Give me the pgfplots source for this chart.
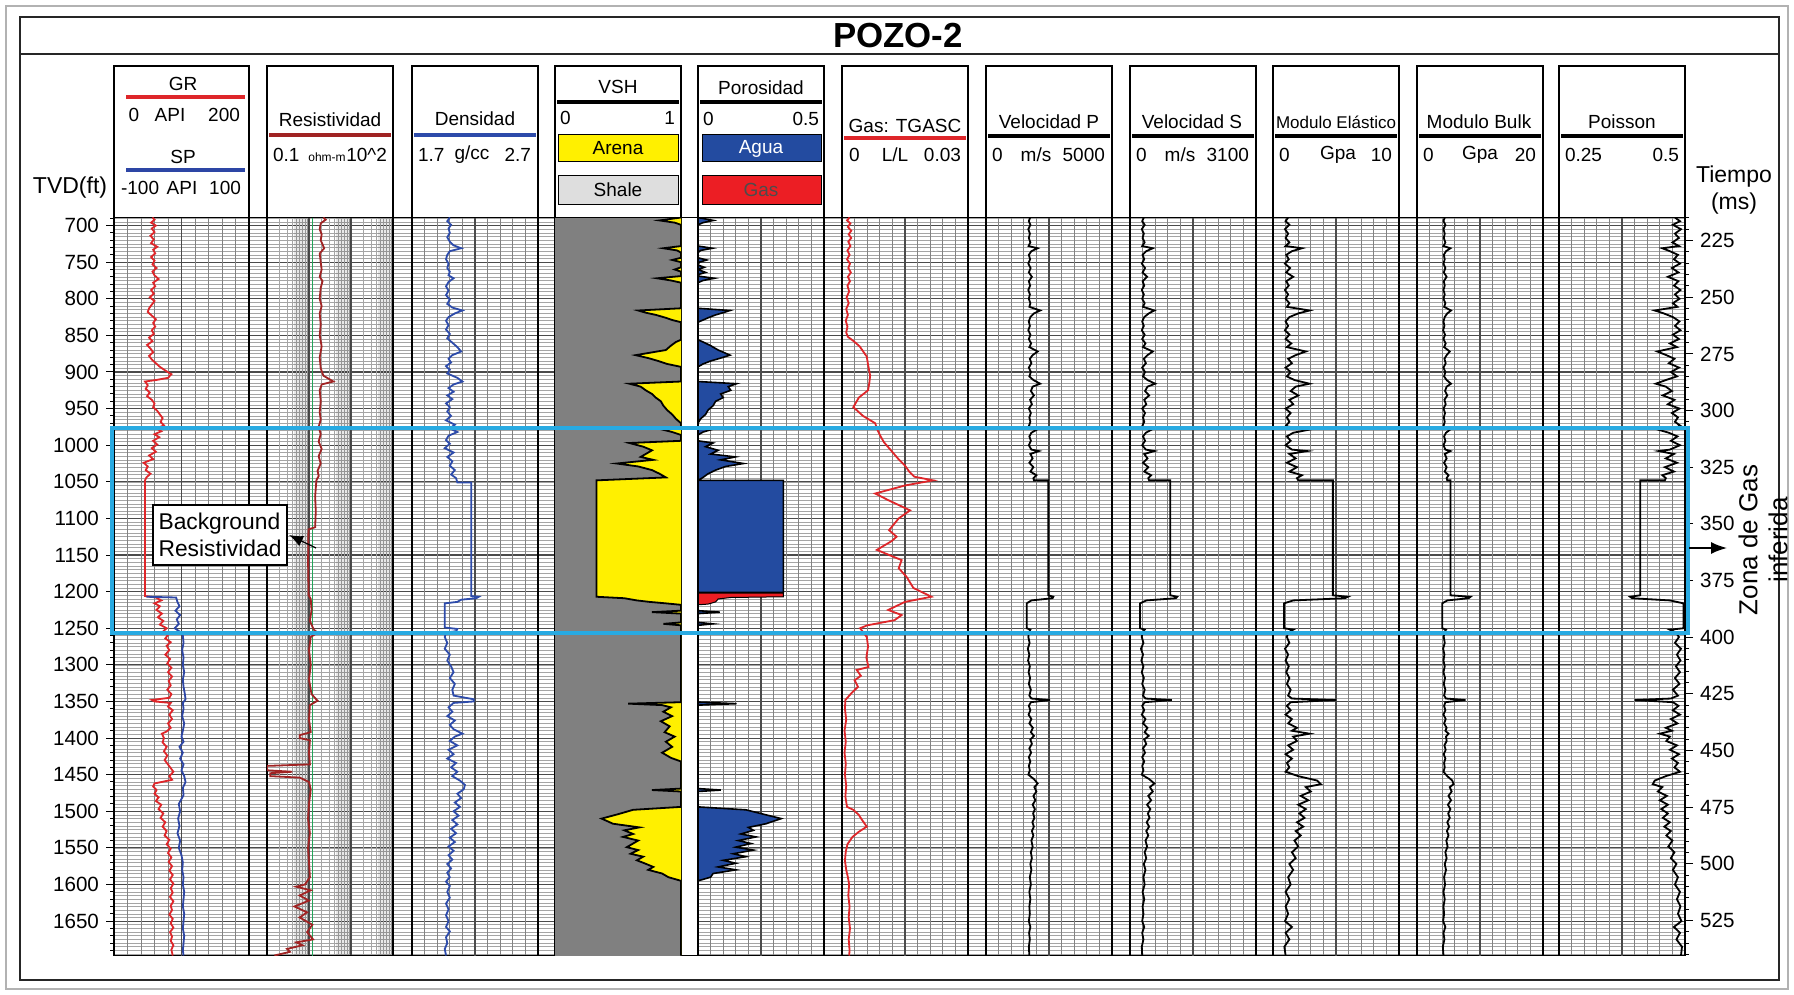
\documentclass[border=0pt]{standalone}
\usepackage{pgfplots}
\pgfplotsset{compat=1.18}
\usetikzlibrary{arrows.meta}
\usepackage{fontspec}
\setmainfont{Liberation Sans}

\definecolor{grred}{RGB}{222,38,42}
\definecolor{spblue}{RGB}{45,70,165}
\definecolor{resred}{RGB}{160,35,35}
\definecolor{resgreen}{RGB}{35,165,90}
\definecolor{dblue}{RGB}{45,75,170}
\definecolor{vshgray}{RGB}{128,128,128}
\definecolor{sandyel}{RGB}{255,240,0}
\definecolor{aguablue}{RGB}{35,75,160}
\definecolor{gasred}{RGB}{236,30,36}
\definecolor{zonecyan}{RGB}{40,170,226}
\definecolor{gminor}{RGB}{165,165,165}
\definecolor{gvert}{RGB}{130,130,130}
\definecolor{gmajor}{RGB}{75,75,75}

\newcommand{\fs}[1]{\fontsize{#1}{#1}\selectfont}

\pgfplotsset{
  base/.style={scale only axis, height=369pt, anchor=north west, y dir=reverse, ymin=689, ymax=1697},
  trk/.style={base, width=63pt, ytick=\empty, xticklabels={}, extra x tick labels={},
    scaled x ticks=false,
    major tick length=0pt, minor tick length=0pt, xmajorgrids,
    major grid style={gvert,line width=0.4pt},
    extra x tick style={major grid style={gmajor,line width=0.6pt}},
    axis line style={black,line width=0.8pt}},
  ovl/.style={base, width=63pt, axis lines=none, xtick=\empty, ytick=\empty},
}

\begin{document}
\begin{tikzpicture}
\useasboundingbox (0,0) rectangle (897pt,-497.5pt);
\begin{scope}[x=0.5pt,y=-0.5pt]
\fill[white] (0,0) rectangle (1794,995);
\draw[gray!60, line width=0.6pt] (6,6) rectangle (1788,989);
\draw[black!85, line width=0.8pt] (20,17) rectangle (1779,980);
\draw[black!85, line width=0.8pt] (20,54) -- (1779,54);
\node[font=\fs{17.4}\bfseries] at (898,36) {POZO-2};
\foreach \l/\w in {114/135,267/126,412/126,555/126,698/126,842/126,986/126,1130/126,1273/126,1417/126,1559/126}
  \draw[black, line width=0.6pt] (\l,66) rectangle (\l+\w,217.5);
% GR / SP
\node[font=\fs{9.5}] at (183,84) {GR};
\draw[grred, line width=1.6pt] (126,97) -- (245,97);
\node[font=\fs{9.5}] at (134,115) {0};
\node[font=\fs{9.5}] at (170,115) {API};
\node[font=\fs{9.5}, anchor=east] at (247,115) {200};
\node[font=\fs{9.5}] at (183,157) {SP};
\draw[spblue, line width=1.6pt] (126,170) -- (245,170);
\node[font=\fs{9.5}, anchor=west] at (114,188) {-100};
\node[font=\fs{9.5}] at (182,188) {API};
\node[font=\fs{9.5}, anchor=east] at (248,188) {100};
% Res
\node[font=\fs{9.5}] at (330,120) {Resistividad};
\draw[resred, line width=1.6pt] (269,135) -- (391,135);
\node[font=\fs{9.5}, anchor=west] at (266,155) {0.1};
\node[font=\fs{6}] at (327,157) {ohm-m};
\node[font=\fs{9.5}, anchor=east] at (394,155) {10\textasciicircum 2};
% Dens
\node[font=\fs{9.5}] at (475,119) {Densidad};
\draw[dblue, line width=1.6pt] (414,135) -- (536,135);
\node[font=\fs{9.5}, anchor=west] at (411,155) {1.7};
\node[font=\fs{9.5}] at (472,155) {g/cc};
\node[font=\fs{9.5}, anchor=east] at (538,155) {2.7};
% VSH
\node[font=\fs{9.5}] at (618,87) {VSH};
\draw[black, line width=1.6pt] (557,102) -- (679,102);
\node[font=\fs{9.5}, anchor=west] at (553,118) {0};
\node[font=\fs{9.5}, anchor=east] at (682,118) {1};
\draw[black, fill=sandyel, line width=0.5pt] (558,135) rectangle (678,162);
\node[font=\fs{9.5}] at (618,148.5) {Arena};
\draw[black, fill=black!13, line width=0.5pt] (558,175) rectangle (678,204);
\node[font=\fs{9.5}] at (618,189.5) {Shale};
% Poro
\node[font=\fs{9.5}] at (761,88) {Porosidad};
\draw[black, line width=1.6pt] (700,102) -- (822,102);
\node[font=\fs{9.5}, anchor=west] at (696,119) {0};
\node[font=\fs{9.5}, anchor=east] at (826,119) {0.5};
\draw[black, fill=aguablue, line width=0.5pt] (702,135) rectangle (821,162);
\node[font=\fs{9.5}, text=white!85] at (761,148.5) {Agua};
\draw[black, fill=gasred, line width=0.5pt] (702,175) rectangle (821,204);
\node[font=\fs{9.5}, text=black!70] at (761,189.5) {Gas};
% Gas
\node[font=\fs{9.5}] at (905,126) {Gas: TGASC};
\draw[grred, line width=1.6pt] (844,138) -- (966,138);
\node[font=\fs{9.5}, anchor=west] at (842,155) {0};
\node[font=\fs{9.5}] at (895,155) {L/L};
\node[font=\fs{9.5}, anchor=east] at (968,155) {0.03};
% VelP
\node[font=\fs{9.5}] at (1049,122) {Velocidad P};
\draw[black, line width=1.6pt] (988,136) -- (1110,136);
\node[font=\fs{9.5}, anchor=west] at (985,155) {0};
\node[font=\fs{9.5}] at (1036,155) {m/s};
\node[font=\fs{9.5}, anchor=east] at (1112,155) {5000};
% VelS
\node[font=\fs{9.5}] at (1192,122) {Velocidad S};
\draw[black, line width=1.6pt] (1132,136) -- (1254,136);
\node[font=\fs{9.5}, anchor=west] at (1129,155) {0};
\node[font=\fs{9.5}] at (1180,155) {m/s};
\node[font=\fs{9.5}, anchor=east] at (1256,155) {3100};
% ModE
\node[font=\fs{8.5}] at (1336,122) {Modulo Elástico};
\draw[black, line width=1.6pt] (1275,136) -- (1397,136);
\node[font=\fs{9.5}, anchor=west] at (1272,155) {0};
\node[font=\fs{9.5}] at (1338,155) {Gpa};
\node[font=\fs{9.5}, anchor=east] at (1399,155) {10};
% Bulk
\node[font=\fs{9.5}] at (1479,122) {Modulo Bulk};
\draw[black, line width=1.6pt] (1419,136) -- (1541,136);
\node[font=\fs{9.5}, anchor=west] at (1416,155) {0};
\node[font=\fs{9.5}] at (1480,155) {Gpa};
\node[font=\fs{9.5}, anchor=east] at (1543,155) {20};
% Poisson
\node[font=\fs{9.5}] at (1622,122) {Poisson};
\draw[black, line width=1.6pt] (1561,136) -- (1683,136);
\node[font=\fs{9.5}, anchor=west] at (1558,155) {0.25};
\node[font=\fs{9.5}, anchor=east] at (1686,155) {0.5};
% axis titles
\node[font=\fs{11.5}] at (70,188) {TVD(ft)};
\node[font=\fs{11.5}] at (1734,177) {Tiempo};
\node[font=\fs{11.5}] at (1734,204) {(ms)};
\end{scope}

% background grid
\begin{axis}[base, width=785.5pt, at={(57pt,-108.75pt)}, xmin=0, xmax=1,
  xtick=\empty, ytick={700,750,...,1650}, minor ytick={690,695,...,1695},
  yticklabels={}, major tick length=0pt, minor tick length=0pt,
  ymajorgrids, yminorgrids, major grid style={gmajor,line width=0.55pt},
  minor grid style={gminor,line width=0.28pt},
  axis line style={black,line width=0.8pt}]
\end{axis}
\fill[white] (341pt,-109.1pt) rectangle (348.7pt,-477.4pt);

% GR
\begin{axis}[trk, width=67.5pt, at={(57pt,-108.75pt)}, xmin=0, xmax=200, xtick={20,40,...,180}, extra x ticks={100}]
\addplot[grred, line width=0.9pt] coordinates {
(57,689)(60,692)(55,696)(62,700)(56,704)(60,709)(54,714)(59,719)(55,724)(64,729)(58,733)(61,738)(55,743)(60,748)(57,753)(63,758)(57,763)(60,768)(66,773)(58,778)(61,783)(55,788)(59,793)(53,798)(60,803)(56,808)(52,813)(50,818)(56,823)(62,828)(58,833)(61,838)(56,843)(59,848)(52,853)(57,858)(49,863)(54,868)(58,873)(52,878)(56,883)(62,888)(68,893)(76,898)(85,903)(80,908)(62,911)(46,913)(50,918)(47,923)(53,928)(49,933)(56,938)(60,943)(58,948)(64,953)(68,958)(72,963)(69,968)(74,973)(63,977)(70,981)(60,985)(67,989)(58,994)(64,999)(56,1004)(62,1009)(52,1014)(58,1019)(44,1024)(50,1029)(47,1034)(54,1039)(48,1044)(46,1048)(46,1206)(62,1208)(70,1212)(60,1216)(68,1220)(63,1225)(71,1230)(65,1235)(73,1240)(68,1245)(78,1250)(72,1255)(80,1259)(76,1264)(84,1269)(78,1274)(82,1280)(76,1286)(83,1292)(79,1298)(85,1304)(80,1310)(86,1316)(81,1322)(84,1328)(79,1334)(85,1340)(82,1345)(56,1348)(60,1350)(84,1352)(80,1357)(87,1362)(82,1368)(86,1374)(80,1380)(84,1386)(78,1391)(71,1394)(74,1400)(72,1406)(78,1412)(74,1418)(79,1424)(75,1430)(80,1436)(84,1441)(88,1446)(82,1452)(86,1457)(60,1462)(58,1466)(63,1471)(60,1476)(66,1481)(62,1486)(70,1491)(66,1497)(73,1503)(69,1509)(76,1515)(72,1521)(78,1527)(75,1533)(82,1539)(78,1545)(84,1551)(80,1557)(85,1563)(81,1569)(86,1575)(82,1581)(87,1587)(83,1593)(88,1599)(84,1605)(87,1611)(83,1617)(88,1623)(84,1629)(86,1635)(82,1641)(87,1647)(84,1653)(88,1659)(83,1665)(86,1671)(84,1677)(88,1683)(85,1689)(87,1697)};
\end{axis}
% SP
\begin{axis}[ovl, width=67.5pt, at={(57pt,-108.75pt)}, xmin=-100, xmax=100]
\addplot[spblue, line width=0.9pt] coordinates {
(-52,1207)(-8,1208)(-6,1214)(-3,1220)(-9,1226)(-2,1232)(-7,1238)(-4,1244)(-10,1250)(-2,1255)(2,1260)(3,1270)(1,1280)(3,1290)(2,1300)(4,1310)(2,1320)(3,1330)(5,1340)(6,1347)(2,1352)(3,1360)(1,1370)(4,1380)(2,1390)(0,1398)(3,1405)(-3,1412)(2,1420)(-2,1428)(3,1436)(0,1444)(4,1452)(6,1460)(2,1468)(3,1478)(-4,1490)(-2,1500)(-5,1510)(-3,1520)(-6,1530)(-2,1540)(-4,1550)(0,1560)(2,1570)(1,1580)(3,1590)(2,1600)(4,1610)(3,1620)(2,1630)(4,1640)(3,1650)(2,1660)(4,1670)(3,1680)(2,1690)(3,1697)};
\end{axis}

% Resistividad
\begin{axis}[trk, at={(133.5pt,-108.75pt)}, xmode=log, xmin=0.1, xmax=100, xtick={1,10}, extra x ticks={},
  minor xtick={0.2,0.3,0.4,0.5,0.6,0.7,0.8,0.9,2,3,4,5,6,7,8,9,20,30,40,50,60,70,80,90},
  xminorgrids, minor grid style={gminor,line width=0.3pt}, major grid style={gmajor,line width=0.6pt}]
\fill[black, opacity=0.09] (axis cs:0.45,689) rectangle (axis cs:1,1697);
\fill[black, opacity=0.09] (axis cs:4.5,689) rectangle (axis cs:10,1697);
\fill[black, opacity=0.09] (axis cs:45,689) rectangle (axis cs:100,1697);
\addplot[resgreen, line width=0.8pt] coordinates {(1.2,689)(1.2,1697)};
\addplot[resred, line width=0.9pt] coordinates {
(2.2,689)(2.5,692)(1.9,697)(1.8,705)(2.0,712)(1.9,720)(2.3,731)(1.8,738)(1.9,750)(2.0,760)(1.8,770)(2.1,776)(1.9,785)(1.8,800)(2.0,810)(1.8,820)(1.9,835)(1.8,850)(2.0,865)(1.8,880)(1.9,895)(2.2,905)(3.8,913)(2.0,917)(1.8,925)(1.9,940)(1.8,955)(1.9,965)(1.7,975)(1.9,985)(1.7,995)(2.0,1005)(1.7,1015)(1.9,1025)(1.6,1035)(1.7,1042)(1.5,1048)(1.4,1070)(1.45,1090)(1.4,1112)(0.97,1115)(0.95,1160)(0.98,1205)(1.1,1210)(1.15,1225)(1.05,1240)(1.3,1252)(1.6,1256)(1.1,1262)(1.0,1280)(1.1,1300)(1.0,1320)(1.15,1340)(1.6,1349)(1.05,1355)(1.0,1375)(1.1,1392)(0.6,1396)(0.6,1400)(1.05,1403)(1.0,1420)(1.05,1436)(0.1,1438)(0.1,1444)(0.4,1446)(0.12,1448)(0.12,1452)(0.6,1454)(1.0,1460)(1.1,1470)(1.0,1490)(0.95,1510)(1.05,1530)(0.95,1550)(1.0,1570)(1.05,1590)(0.8,1600)(0.5,1603)(1.1,1608)(0.6,1615)(1.0,1622)(0.45,1630)(0.9,1638)(0.6,1645)(1.2,1655)(0.9,1665)(1.25,1675)(0.5,1679)(0.7,1683)(0.3,1688)(0.35,1692)(0.15,1697)};
\end{axis}

% Densidad
\begin{axis}[trk, at={(206pt,-108.75pt)}, xmin=1.7, xmax=2.7, xtick={1.8,1.9,2.0,2.1,2.3,2.4,2.5,2.6}, extra x ticks={2.2}]
\addplot[dblue, line width=0.9pt] coordinates {
(2.00,689)(1.98,694)(2.01,699)(1.99,704)(2.00,710)(1.98,716)(2.00,722)(2.03,727)(2.09,731)(2.00,735)(1.98,740)(1.97,746)(1.99,752)(1.98,758)(2.00,763)(1.99,768)(2.03,772)(1.99,777)(1.97,783)(1.99,789)(1.97,795)(2.00,801)(1.98,807)(2.02,812)(2.10,816)(2.04,820)(1.99,825)(1.97,830)(1.99,836)(1.97,842)(2.00,848)(1.98,854)(2.02,860)(2.06,866)(2.09,872)(2.02,877)(1.99,882)(2.01,887)(1.97,892)(2.00,897)(1.98,902)(2.06,908)(2.10,913)(2.03,917)(1.99,922)(2.03,927)(1.98,932)(2.02,937)(1.97,943)(2.00,948)(1.98,954)(2.01,960)(1.97,966)(2.04,972)(2.00,977)(2.06,982)(1.99,987)(1.97,993)(2.00,998)(1.96,1004)(2.03,1010)(1.98,1016)(2.02,1022)(2.00,1028)(2.04,1034)(2.01,1040)(2.05,1045)(2.06,1051)(2.17,1051)(2.17,1206)(2.23,1207)(2.21,1209)(2.09,1211)(2.06,1214)(1.96,1216)(1.96,1249)(2.06,1251)(2.05,1254)(1.97,1256)(1.96,1262)(1.98,1270)(1.96,1278)(2.00,1286)(1.98,1294)(2.01,1302)(2.03,1310)(2.00,1318)(2.04,1326)(2.02,1334)(2.03,1342)(2.19,1347)(2.19,1350)(2.03,1352)(1.99,1358)(2.02,1364)(1.98,1370)(2.04,1376)(2.00,1382)(2.03,1388)(2.10,1394)(2.04,1398)(2.00,1404)(2.06,1410)(1.99,1416)(2.03,1422)(1.98,1428)(2.05,1434)(2.01,1440)(2.06,1446)(2.02,1452)(2.08,1458)(2.12,1464)(2.11,1470)(2.06,1476)(2.09,1482)(2.04,1488)(2.08,1494)(2.03,1500)(2.07,1506)(2.02,1512)(2.06,1518)(2.01,1524)(2.05,1530)(2.00,1536)(2.04,1542)(1.99,1548)(2.03,1554)(1.99,1560)(2.02,1566)(1.98,1572)(2.01,1578)(1.98,1584)(2.00,1590)(1.97,1596)(2.00,1602)(1.98,1610)(2.00,1618)(1.97,1626)(1.99,1634)(1.97,1642)(1.99,1650)(1.97,1658)(2.00,1664)(1.97,1672)(1.98,1680)(1.96,1688)(1.97,1697)};
\end{axis}

% VSH
\begin{axis}[trk, at={(277.5pt,-108.75pt)}, xmin=0, xmax=1, xtick=\empty, xmajorgrids=false]
\fill[vshgray] (rel axis cs:0,0) rectangle (rel axis cs:1,1);
\addplot[fill=sandyel, draw=black, line width=0.9pt] coordinates {
(1,689)(0.83,693)(0.95,696)(1,699)(1,728)(0.86,731)(0.97,734)(1,737)(1,744)(0.93,747)(1,750)(1,757)(0.95,760)(1,763)(1,769)(0.81,772)(0.92,775)(1,778)(1,813)(0.66,816)(0.72,819)(0.80,822)(0.88,826)(0.93,829)(1,832)(1,856)(0.96,859)(0.92,864)(0.88,870)(0.64,877)(0.74,881)(0.82,885)(0.89,889)(1,893)(1,913)(0.59,916)(0.68,920)(0.72,925)(0.77,930)(0.80,935)(0.84,940)(0.86,946)(0.89,952)(0.93,958)(0.96,964)(1,970)(1,976)(0.86,979)(0.93,982)(1,986)(1,994)(0.59,997)(0.70,1002)(0.77,1007)(0.72,1012)(0.68,1016)(0.78,1020)(0.49,1025)(0.66,1029)(0.77,1034)(0.83,1039)(0.88,1044)(0.33,1048)(0.33,1207)(0.55,1209)(0.65,1212)(0.75,1214)(0.88,1216)(1,1218)(1,1226)(0.77,1228)(1,1230)(1,1242)(0.86,1244)(1,1246)(1,1351)(0.58,1353)(0.85,1355)(0.92,1358)(0.86,1364)(0.93,1370)(0.84,1377)(0.91,1384)(0.87,1392)(0.95,1398)(0.88,1405)(0.93,1412)(0.85,1420)(0.92,1427)(1,1432)(1,1469)(0.77,1471)(1,1473)(1,1494)(0.62,1498)(0.50,1504)(0.37,1510)(0.46,1517)(0.67,1522)(0.55,1526)(0.62,1531)(0.54,1535)(0.66,1540)(0.62,1544)(0.57,1549)(0.66,1553)(0.60,1558)(0.70,1562)(0.65,1567)(0.71,1571)(0.78,1576)(0.74,1580)(0.85,1585)(0.90,1590)(1,1595)(1,1697)};
\end{axis}

% Porosidad
\begin{axis}[trk, at={(349pt,-108.75pt)}, xmin=0, xmax=0.5, xtick={0.05,0.1,0.15,0.2,0.3,0.35,0.4,0.45}, extra x ticks={0.25}]
\addplot[fill=aguablue, draw=black, line width=0.8pt] coordinates {
(0,689)(0.061,693)(0.02,696)(0,699)(0,728)(0.057,731)(0.01,734)(0,737)(0,744)(0.035,747)(0.005,750)(0,754)(0.025,757)(0,760)(0.03,764)(0,767)(0,769)(0.065,772)(0.02,775)(0,778)(0,813)(0.127,816)(0.1,819)(0.07,822)(0.04,826)(0.02,829)(0,832)(0,856)(0.02,859)(0.05,864)(0.08,870)(0.127,877)(0.09,881)(0.05,885)(0.02,889)(0,893)(0,913)(0.153,916)(0.12,920)(0.13,925)(0.09,930)(0.1,935)(0.07,940)(0.06,946)(0.04,952)(0.03,958)(0.01,964)(0,970)(0,976)(0.05,979)(0.02,982)(0,986)(0,994)(0.06,997)(0.03,1002)(0.08,1007)(0.05,1012)(0.148,1016)(0.09,1020)(0.18,1025)(0.11,1029)(0.07,1034)(0.04,1039)(0.02,1044)(0,1048)(0.339,1048)(0.339,1201)(0,1201)(0,1226)(0.087,1228)(0,1230)(0,1242)(0.057,1244)(0,1246)(0,1351)(0.153,1353)(0,1355)(0,1469)(0.091,1471)(0,1473)(0,1494)(0.19,1498)(0.26,1504)(0.33,1510)(0.27,1517)(0.2,1522)(0.22,1526)(0.17,1531)(0.23,1535)(0.16,1540)(0.21,1544)(0.15,1549)(0.22,1553)(0.14,1558)(0.19,1562)(0.1,1567)(0.15,1571)(0.08,1576)(0.15,1580)(0.06,1585)(0.05,1590)(0,1595)(0,1697)};
\addplot[fill=gasred, draw=black, line width=0.5pt] coordinates {
(0,1202)(0.339,1202)(0.339,1207)(0.13,1208)(0.08,1210)(0.07,1214)(0.04,1217)(0,1218)};
\draw[black, line width=1.3pt] (rel axis cs:0,0) -- (rel axis cs:0,1);
\end{axis}

% Gas
\begin{axis}[trk, at={(421pt,-108.75pt)}, xmin=0, xmax=0.03, xtick={0.003,0.006,0.009,0.012,0.018,0.021,0.024,0.027}, extra x ticks={0.015}]
\addplot[grred, line width=0.9pt] coordinates {
(0.0018,689)(0.0012,693)(0.0020,697)(0.0014,702)(0.0022,707)(0.0016,712)(0.0022,717)(0.0015,722)(0.0020,728)(0.0013,734)(0.0018,740)(0.0012,746)(0.0019,752)(0.0015,758)(0.0021,764)(0.0014,770)(0.0019,776)(0.0013,782)(0.0017,790)(0.0011,798)(0.0016,806)(0.0010,814)(0.0014,822)(0.0009,830)(0.0013,838)(0.0010,846)(0.0014,852)(0.0028,858)(0.0042,865)(0.0059,879)(0.0062,890)(0.0067,905)(0.0065,915)(0.0062,925)(0.0040,935)(0.0027,948)(0.0050,960)(0.0079,970)(0.0085,980)(0.0092,988)(0.0100,996)(0.0112,1004)(0.0124,1012)(0.0136,1020)(0.0150,1028)(0.0160,1036)(0.0172,1043)(0.0217,1048)(0.0150,1055)(0.0079,1066)(0.0110,1075)(0.0162,1089)(0.0135,1100)(0.0112,1116)(0.0130,1125)(0.0118,1131)(0.0083,1143)(0.0142,1157)(0.0135,1168)(0.0154,1180)(0.0170,1195)(0.0213,1207)(0.0150,1214)(0.0110,1225)(0.0142,1232)(0.0125,1239)(0.0060,1246)(0.0043,1250)(0.0050,1255)(0.0059,1262)(0.0062,1275)(0.0058,1290)(0.0063,1303)(0.0035,1307)(0.0045,1315)(0.0030,1321)(0.0038,1330)(0.0022,1339)(0.0008,1348)(0.0007,1360)(0.0010,1375)(0.0006,1390)(0.0009,1405)(0.0006,1420)(0.0009,1435)(0.0007,1450)(0.0010,1465)(0.0008,1480)(0.0012,1494)(0.0027,1498)(0.0040,1505)(0.0048,1512)(0.0059,1521)(0.0040,1528)(0.0025,1535)(0.0013,1545)(0.0009,1555)(0.0007,1567)(0.0010,1580)(0.0014,1590)(0.0017,1600)(0.0015,1615)(0.0018,1630)(0.0016,1645)(0.0019,1660)(0.0016,1675)(0.0018,1690)(0.0017,1697)};
\end{axis}

% Velocidad P
\begin{axis}[trk, at={(493pt,-108.75pt)}, xmin=0, xmax=5000, xtick={500,1000,1500,2000,3000,3500,4000,4500}, extra x ticks={2500}]
\addplot[black, line width=0.9pt] coordinates {
(1750,689)(1700,694)(1760,699)(1680,705)(1740,711)(1700,717)(1760,723)(1690,728)(2050,731)(1800,735)(1700,740)(1750,746)(1680,752)(1770,758)(1700,764)(1820,770)(1700,776)(1750,782)(1680,788)(1740,794)(1700,800)(1760,806)(1720,811)(2150,816)(1900,820)(1760,825)(1700,831)(1740,837)(1680,843)(1760,849)(1700,855)(1790,861)(1720,866)(2050,872)(1850,877)(1740,882)(1800,888)(1700,894)(1780,900)(1720,906)(1880,911)(2150,916)(1850,920)(1780,926)(1900,932)(1750,938)(1820,944)(1700,950)(1780,956)(1720,962)(1760,968)(1700,974)(2000,979)(1800,983)(1720,988)(1780,994)(1700,1000)(1800,1006)(2100,1008)(1760,1012)(1850,1018)(1720,1024)(1880,1030)(1760,1036)(2000,1041)(1880,1045)(1900,1048)(2473,1048)(2473,1205)(2670,1207)(2640,1209)(1800,1212)(1614,1216)(1614,1250)(1760,1252)(1700,1256)(1680,1262)(1730,1270)(1660,1278)(1720,1286)(1670,1294)(1740,1302)(1690,1310)(1750,1318)(1700,1326)(1780,1334)(1720,1342)(1800,1346)(2540,1348)(1780,1351)(1700,1356)(1760,1362)(1690,1368)(1800,1374)(1720,1380)(1860,1386)(1780,1392)(1900,1397)(1760,1402)(1820,1408)(1720,1414)(1790,1420)(1700,1426)(1760,1432)(1700,1438)(1740,1444)(1680,1450)(1900,1456)(2050,1462)(1920,1467)(2000,1473)(1880,1479)(1960,1485)(1850,1491)(1940,1497)(1870,1503)(1920,1509)(1840,1515)(1900,1521)(1820,1527)(1880,1533)(1800,1540)(1850,1548)(1780,1556)(1820,1564)(1760,1572)(1800,1580)(1740,1590)(1780,1600)(1720,1610)(1760,1620)(1720,1630)(1740,1640)(1700,1650)(1760,1658)(1710,1666)(1740,1675)(1700,1685)(1720,1697)};
\end{axis}

% Velocidad S
\begin{axis}[trk, at={(565pt,-108.75pt)}, xmin=0, xmax=3100, xtick={310,620,930,1240,1860,2170,2480,2790}, extra x ticks={1550}]
\addplot[black, line width=0.9pt] coordinates {
(340,689)(300,694)(360,699)(290,705)(340,711)(310,717)(360,723)(300,728)(560,731)(400,735)(310,740)(350,746)(290,752)(370,758)(310,764)(420,770)(310,776)(350,782)(290,788)(340,794)(300,800)(360,806)(320,811)(600,816)(460,820)(350,825)(300,831)(340,837)(290,843)(360,849)(300,855)(380,861)(320,866)(560,872)(430,877)(340,882)(390,888)(300,894)(370,900)(320,906)(430,911)(620,916)(430,920)(370,926)(470,932)(350,938)(400,944)(300,950)(370,956)(320,962)(350,968)(300,974)(520,979)(390,983)(320,988)(370,994)(300,1000)(390,1006)(600,1008)(350,1012)(430,1018)(320,1024)(450,1030)(350,1036)(520,1041)(450,1045)(470,1048)(992,1048)(992,1205)(1160,1207)(1130,1209)(400,1212)(248,1216)(248,1250)(360,1252)(300,1256)(290,1262)(330,1270)(270,1278)(320,1286)(280,1294)(330,1302)(290,1310)(340,1318)(300,1326)(360,1334)(320,1342)(380,1346)(1030,1348)(360,1351)(300,1356)(350,1362)(290,1368)(380,1374)(320,1380)(430,1386)(360,1392)(460,1397)(350,1402)(400,1408)(320,1414)(370,1420)(300,1426)(350,1432)(300,1438)(330,1444)(290,1450)(470,1456)(600,1462)(490,1467)(560,1473)(450,1479)(520,1485)(420,1491)(500,1497)(440,1503)(480,1509)(410,1515)(470,1521)(400,1527)(450,1533)(380,1540)(420,1548)(360,1556)(400,1564)(340,1572)(380,1580)(330,1590)(360,1600)(310,1610)(350,1620)(310,1630)(330,1640)(300,1650)(350,1658)(300,1666)(330,1675)(290,1685)(300,1697)};
\end{axis}

% Modulo Elastico
\begin{axis}[trk, at={(636.5pt,-108.75pt)}, xmin=0, xmax=10, xtick={1,2,3,4,6,7,8,9}, extra x ticks={5}]
\addplot[black, line width=0.9pt] coordinates {
(1.2,689)(1.0,694)(1.3,699)(0.95,705)(1.2,711)(1.0,717)(1.3,723)(1.0,728)(2.3,731)(1.5,735)(1.05,740)(1.25,746)(0.95,752)(1.35,758)(1.05,764)(1.6,770)(1.05,776)(1.25,782)(0.95,788)(1.2,794)(1.0,800)(1.3,806)(1.1,811)(2.9,816)(2.0,820)(1.3,825)(1.0,831)(1.2,837)(0.95,843)(1.3,849)(1.0,855)(1.45,861)(1.1,866)(2.6,872)(1.8,877)(1.2,882)(1.5,888)(1.0,894)(1.4,900)(1.1,906)(1.7,911)(2.9,916)(1.8,920)(1.4,926)(2.0,932)(1.3,938)(1.6,944)(1.0,950)(1.4,956)(1.1,962)(1.3,968)(1.0,974)(2.8,979)(1.6,983)(1.1,988)(1.4,994)(1.0,1000)(1.5,1006)(2.7,1008)(1.3,1012)(1.8,1018)(1.1,1024)(1.9,1030)(1.3,1036)(2.3,1041)(1.9,1045)(2.0,1048)(4.75,1048)(4.75,1205)(5.95,1207)(5.7,1209)(1.6,1212)(0.88,1216)(0.88,1250)(1.6,1252)(1.2,1256)(1.1,1262)(1.3,1270)(0.95,1278)(1.2,1286)(1.0,1294)(1.25,1302)(1.05,1310)(1.3,1318)(1.1,1326)(1.4,1334)(1.2,1342)(1.5,1346)(5.0,1348)(1.4,1351)(1.1,1356)(1.4,1362)(1.0,1368)(1.5,1374)(1.2,1380)(1.9,1386)(1.5,1390)(2.9,1394)(1.6,1398)(1.9,1404)(1.2,1410)(1.6,1416)(1.0,1422)(1.5,1428)(1.1,1434)(1.3,1440)(1.0,1446)(2.0,1452)(3.5,1458)(3.8,1463)(2.6,1467)(3.0,1473)(2.2,1479)(2.8,1485)(2.0,1491)(2.6,1497)(2.1,1503)(2.5,1509)(1.9,1515)(2.4,1521)(1.8,1527)(2.2,1533)(1.7,1540)(2.0,1548)(1.5,1556)(1.8,1564)(1.3,1572)(1.6,1580)(1.2,1590)(1.4,1600)(1.0,1610)(1.3,1620)(1.0,1630)(1.2,1640)(0.95,1650)(1.5,1658)(1.0,1666)(1.3,1675)(0.9,1685)(1.0,1697)};
\end{axis}

% Modulo Bulk
\begin{axis}[trk, at={(708.5pt,-108.75pt)}, xmin=0, xmax=20, xtick={2,4,6,8,12,14,16,18}, extra x ticks={10}]
\addplot[black, line width=0.9pt] coordinates {
(4.4,689)(4.2,694)(4.5,699)(4.2,705)(4.4,711)(4.25,717)(4.5,723)(4.2,728)(5.3,731)(4.6,735)(4.25,740)(4.4,746)(4.2,752)(4.5,758)(4.25,764)(4.7,770)(4.25,776)(4.4,782)(4.2,788)(4.4,794)(4.2,800)(4.5,806)(4.3,811)(5.4,816)(4.8,820)(4.4,825)(4.2,831)(4.35,837)(4.15,843)(4.45,849)(4.2,855)(4.55,861)(4.3,866)(5.2,872)(4.7,877)(4.35,882)(4.55,888)(4.2,894)(4.5,900)(4.3,906)(4.7,911)(5.4,916)(4.7,920)(4.45,926)(4.8,932)(4.35,938)(4.55,944)(4.2,950)(4.45,956)(4.25,962)(4.4,968)(4.2,974)(5.2,979)(4.6,983)(4.3,988)(4.5,994)(4.2,1000)(4.5,1006)(5.3,1008)(4.4,1012)(4.7,1018)(4.3,1024)(4.7,1030)(4.4,1036)(5.0,1041)(4.7,1045)(4.8,1048)(5.3,1048)(5.3,1205)(8.5,1207)(8.2,1209)(4.8,1212)(4.0,1216)(4.0,1250)(4.6,1252)(4.3,1256)(4.25,1262)(4.4,1270)(4.15,1278)(4.35,1286)(4.2,1294)(4.4,1302)(4.2,1310)(4.45,1318)(4.25,1326)(4.5,1334)(4.3,1342)(4.6,1346)(7.7,1348)(4.5,1351)(4.3,1356)(4.5,1362)(4.2,1368)(4.55,1374)(4.3,1380)(4.7,1386)(4.5,1390)(5.0,1394)(4.6,1398)(4.7,1404)(4.35,1410)(4.55,1416)(4.25,1422)(4.5,1428)(4.3,1434)(4.4,1440)(4.2,1446)(4.8,1452)(5.6,1458)(5.8,1463)(5.2,1467)(5.5,1473)(5.0,1479)(5.4,1485)(4.9,1491)(5.3,1497)(4.95,1503)(5.2,1509)(4.8,1515)(5.1,1521)(4.75,1527)(5.0,1533)(4.65,1540)(4.85,1548)(4.5,1556)(4.7,1564)(4.4,1572)(4.6,1580)(4.3,1590)(4.45,1600)(4.2,1610)(4.4,1620)(4.2,1630)(4.3,1640)(4.15,1650)(4.5,1658)(4.2,1666)(4.35,1675)(4.1,1685)(4.2,1697)};
\end{axis}

% Poisson
\begin{axis}[trk, at={(779.5pt,-108.75pt)}, xmin=0.25, xmax=0.5, xtick={0.275,0.3,0.325,0.35,0.4,0.425,0.45,0.475}, extra x ticks={0.375}]
\addplot[black, line width=0.9pt] coordinates {
(0.480,689)(0.490,694)(0.476,699)(0.492,705)(0.480,711)(0.488,717)(0.475,723)(0.488,728)(0.455,731)(0.470,735)(0.486,740)(0.478,746)(0.490,752)(0.474,758)(0.487,764)(0.466,770)(0.487,776)(0.478,782)(0.491,788)(0.480,794)(0.489,800)(0.476,806)(0.485,811)(0.440,816)(0.458,820)(0.476,825)(0.489,831)(0.480,837)(0.491,843)(0.476,849)(0.488,855)(0.470,861)(0.484,866)(0.445,872)(0.463,877)(0.479,882)(0.468,888)(0.488,894)(0.472,900)(0.484,906)(0.462,911)(0.442,916)(0.462,920)(0.474,926)(0.456,932)(0.479,938)(0.466,944)(0.489,950)(0.474,956)(0.486,962)(0.480,968)(0.492,974)(0.448,979)(0.468,983)(0.485,988)(0.472,994)(0.490,1000)(0.470,1006)(0.448,1008)(0.478,1012)(0.462,1018)(0.484,1024)(0.460,1030)(0.478,1036)(0.455,1041)(0.462,1045)(0.460,1048)(0.411,1048)(0.411,1205)(0.391,1207)(0.395,1209)(0.470,1212)(0.497,1216)(0.497,1250)(0.470,1252)(0.482,1256)(0.488,1262)(0.480,1270)(0.492,1278)(0.484,1286)(0.491,1294)(0.482,1302)(0.490,1310)(0.480,1318)(0.489,1326)(0.476,1334)(0.486,1342)(0.472,1346)(0.400,1348)(0.476,1351)(0.487,1356)(0.476,1362)(0.490,1368)(0.472,1374)(0.485,1380)(0.462,1386)(0.474,1390)(0.450,1394)(0.470,1398)(0.463,1404)(0.484,1410)(0.470,1416)(0.488,1422)(0.474,1428)(0.486,1434)(0.479,1440)(0.490,1446)(0.462,1452)(0.440,1458)(0.436,1463)(0.455,1467)(0.446,1473)(0.464,1479)(0.450,1485)(0.466,1491)(0.453,1497)(0.466,1503)(0.456,1509)(0.470,1515)(0.459,1521)(0.472,1527)(0.463,1533)(0.475,1540)(0.467,1548)(0.479,1556)(0.472,1564)(0.483,1572)(0.476,1580)(0.486,1590)(0.480,1600)(0.490,1610)(0.484,1620)(0.491,1630)(0.486,1640)(0.493,1650)(0.478,1658)(0.490,1666)(0.483,1675)(0.494,1685)(0.492,1697)};
\end{axis}

% left TVD axis
\begin{axis}[base, width=785.5pt, at={(57pt,-108.75pt)}, xmin=0, xmax=1,
  axis x line=none, axis y line*=left, ytick={700,750,...,1650}, minor ytick={690,700,...,1690},
  tick align=outside, major tick length=4pt, minor tick length=2pt, tick style={black,line width=0.5pt},
  yticklabel style={font=\fs{10.3}}, /pgf/number format/1000 sep={},
  /pgf/number format/assume math mode=true, axis line style={black,line width=0.8pt}]
\end{axis}
% right Tiempo axis
\begin{axis}[scale only axis, height=369pt, anchor=north west, y dir=reverse, width=785.5pt, at={(57pt,-108.75pt)},
  xmin=0, xmax=1, ymin=214.8, ymax=540.5,
  axis x line=none, axis y line*=right, ytick={225,250,...,525}, minor ytick={215,220,...,540},
  tick align=outside, major tick length=4pt, minor tick length=2pt, tick style={black,line width=0.5pt},
  yticklabel style={font=\fs{10.3}}, /pgf/number format/assume math mode=true,
  axis line style={black,line width=0.8pt}]
\end{axis}

\begin{scope}[x=0.5pt,y=-0.5pt]
\draw[zonecyan, line width=2pt] (112,428) rectangle (1688,633);
\draw[black, fill=white, line width=0.6pt] (153,505) rectangle (287,565);
\node[font=\fontsize{11.4}{13.5}\selectfont, align=left] at (220,535) {Background\\Resistividad};
\draw[black, line width=0.6pt, -{Latex[length=7pt,width=5.5pt]}] (316,548) -- (289,535);
\draw[black, line width=0.8pt, -{Latex[length=8pt,width=6pt]}] (1689,548) -- (1727,548);
\node[font=\fontsize{13}{15}\selectfont, rotate=90, align=center] at (1763,540) {Zona de Gas\\inferida};
\end{scope}
\end{tikzpicture}
\end{document}
